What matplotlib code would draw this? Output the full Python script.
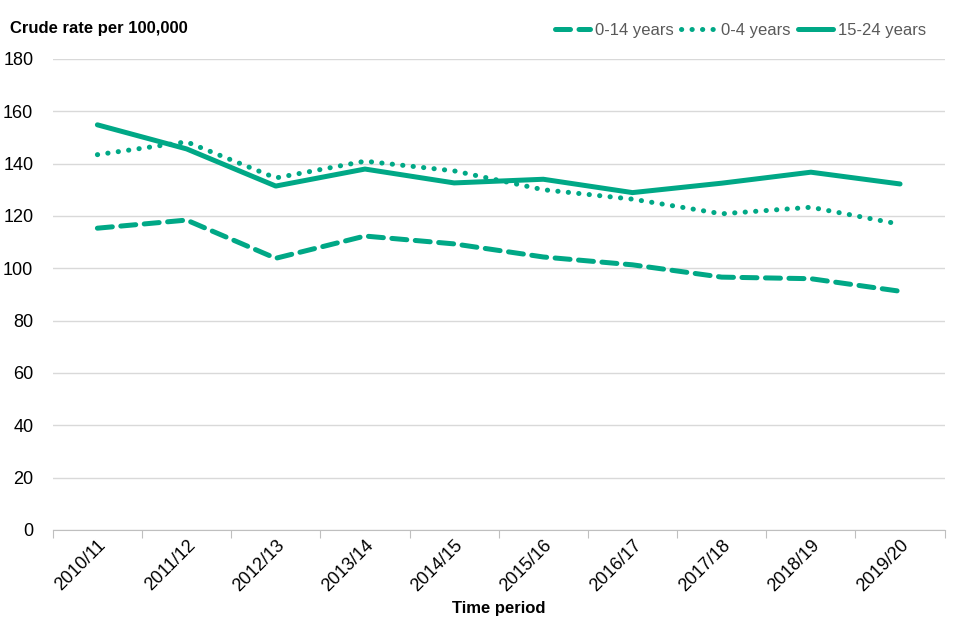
import matplotlib
matplotlib.use("Agg")
import matplotlib.pyplot as plt

plt.rcParams['font.family'] = ['Liberation Sans', 'DejaVu Sans']

periods = ['2010/11', '2011/12', '2012/13', '2013/14', '2014/15',
           '2015/16', '2016/17', '2017/18', '2018/19', '2019/20']
age_0_14 = [115.3, 118.4, 103.8, 112.3, 109.3, 104.3, 101.3, 96.6, 96.0, 91.2]
age_0_4 = [143.4, 148.3, 134.5, 140.9, 137.2, 130.0, 126.4, 120.8, 123.3, 116.8]
age_15_24 = [154.8, 145.6, 131.4, 137.9, 132.6, 134.0, 128.9, 132.5, 136.7, 132.2]

teal = '#00a886'

fig = plt.figure(figsize=(9.6, 6.4), dpi=100)
ax = fig.add_axes([0.055, 0.172, 0.929, 0.736])

x = range(len(periods))
l1, = ax.plot(x, age_0_14, color=teal, lw=3.6, linestyle=(0, (3, 1.7)),
              dash_capstyle='round', label='0-14 years')
l2, = ax.plot(x, age_0_4, color=teal, lw=3.6, linestyle=(0, (0.05, 2.05)),
              dash_capstyle='round', label='0-4 years')
l3, = ax.plot(x, age_15_24, color=teal, lw=3.6, solid_capstyle='round',
              label='15-24 years')

ax.set_xlim(-0.5, len(periods) - 0.5)
ax.set_ylim(0, 180)
ax.set_yticks(range(0, 181, 20))
# category boundaries get the tick marks, labels sit on the centres
ax.set_xticks([i - 0.5 for i in range(len(periods) + 1)], minor=False)
ax.set_xticklabels([])
ax.set_xticks(list(x), minor=True)
ax.set_xticklabels(periods, minor=True, rotation=45, ha='right',
                   rotation_mode='anchor', fontsize=13)
ax.tick_params(axis='x', which='major', length=6, color='#bfbfbf')
ax.tick_params(axis='x', which='minor', length=0, pad=5)
ax.tick_params(axis='y', length=0, labelsize=13, pad=14)

ax.grid(axis='y', color='#d9d9d9', lw=1)
ax.set_axisbelow(True)
for s in ['top', 'right', 'left']:
    ax.spines[s].set_visible(False)
ax.spines['bottom'].set_color('#bfbfbf')

fig.text(0.010, 0.956, 'Crude rate per 100,000', fontsize=12, fontweight='bold',
         va='center', ha='left')
ax.set_xlabel('Time period', fontsize=12, fontweight='bold', labelpad=4)

leg = fig.legend(handles=[l1, l2, l3], loc='center right', bbox_to_anchor=(0.965, 0.952),
                 ncol=3, frameon=False, fontsize=12, handlelength=2.1,
                 handletextpad=0.3, columnspacing=0.45, labelcolor='#595959',
                 borderaxespad=0, borderpad=0)

fig.savefig('out.png', dpi=100)
